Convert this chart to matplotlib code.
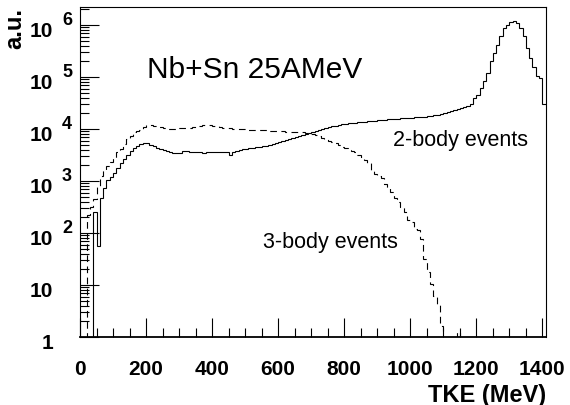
import numpy as np
import matplotlib.pyplot as plt
import matplotlib.transforms as mtransforms
from matplotlib.ticker import FixedLocator, NullFormatter

plt.rcParams['font.family'] = ['Liberation Sans', 'DejaVu Sans']

nan = np.nan
# TKE bins of 10 MeV, 0..1410
edges = np.arange(0, 1411, 10)

# log10(counts) per bin; nan = empty bin
lg_2body = [
    nan, nan, nan, nan, 2.41, 1.76, 2.68, 2.86, 3.02, 3.08,
    3.16, 3.25, 3.35, 3.42, 3.50, 3.58, 3.64, 3.67, 3.71, 3.73,
    3.73, 3.70, 3.68, 3.64, 3.61, 3.59, 3.57, 3.55, 3.53, 3.53,
    3.54, 3.58, 3.57, 3.56, 3.56, 3.55, 3.55, 3.54, 3.55, 3.55,
    3.56, 3.55, 3.56, 3.55, 3.56, 3.51, 3.56, 3.58, 3.59, 3.61,
    3.62, 3.63, 3.64, 3.65, 3.66, 3.67, 3.68, 3.70, 3.71, 3.73,
    3.75, 3.77, 3.79, 3.81, 3.83, 3.85, 3.87, 3.89, 3.91, 3.93,
    3.95, 3.96, 3.98, 4.00, 4.02, 4.04, 4.05, 4.06, 4.08, 4.09,
    4.10, 4.11, 4.12, 4.12, 4.13, 4.14, 4.14, 4.15, 4.16, 4.16,
    4.17, 4.18, 4.18, 4.19, 4.19, 4.20, 4.20, 4.21, 4.21, 4.22,
    4.22, 4.23, 4.23, 4.24, 4.24, 4.25, 4.26, 4.27, 4.28, 4.29,
    4.31, 4.33, 4.35, 4.37, 4.39, 4.41, 4.43, 4.45, 4.48, 4.59,
    4.66, 4.79, 4.92, 5.08, 5.30, 5.46, 5.62, 5.79, 5.95, 6.01,
    6.06, 6.07, 6.04, 5.95, 5.79, 5.56, 5.37, 5.20, 5.02, 4.99,
    4.48,
]

lg_3body = [
    nan, nan, 2.35, 2.50, 2.65, 2.88, 3.10, 3.20, 3.28, 3.36,
    3.45, 3.55, 3.62, 3.72, 3.80, 3.86, 3.94, 3.96, 3.98, 4.04,
    4.07, 4.07, 4.06, 4.05, 4.04, 4.02, 4.00, 4.01, 4.01, 4.02,
    4.02, 4.03, 4.03, 4.03, 4.04, 4.05, 4.06, 4.07, 4.07, 4.07,
    4.06, 4.05, 4.04, 4.03, 4.03, 4.02, 4.01, 4.00, 4.00, 4.00,
    3.99, 3.99, 3.98, 3.98, 3.98, 3.98, 3.98, 3.97, 3.97, 3.97,
    3.96, 3.96, 3.95, 3.95, 3.95, 3.94, 3.94, 3.94, 3.93, 3.92,
    3.91, 3.89, 3.86, 3.83, 3.81, 3.78, 3.75, 3.73, 3.70, 3.66,
    3.63, 3.60, 3.58, 3.55, 3.50, 3.46, 3.41, 3.34, 3.22, 3.14,
    3.09, 3.05, 2.95, 2.86, 2.78, 2.68, 2.60, 2.50, 2.40, 2.26,
    2.22, 2.07, 2.05, 1.88, 1.50, 1.25, 1.02, 0.78, 0.62, 0.22,
    nan, nan, nan, nan, 0.10, nan, nan, nan, nan, nan,
    nan, nan, nan, nan, nan, nan, nan, nan, nan, nan,
    nan, nan, nan, nan, nan, nan, nan, nan, nan, nan,
    nan,
]

xticks_major = [0, 200, 400, 600, 800, 1000, 1200, 1400]
decades = [0, 1, 2, 3, 4, 5, 6]

def counts(lg):
    c = 10.0 ** np.array(lg, dtype=float)
    return np.nan_to_num(c, nan=1e-3)   # empty bins go below the axis

fig = plt.figure(figsize=(5.7, 4.06), dpi=100)
ax = fig.add_axes([80/570, 68/406, 465.7/570, 329.7/406])

ax.stairs(counts(lg_2body), edges, baseline=None, color='black', lw=0.8)
ax.stairs(counts(lg_3body), edges, baseline=None, color='black', lw=0.8,
          linestyle=(0, (6, 4)))

ax.set_yscale('log')
ax.set_xlim(0, 1410)
ax.set_ylim(1, 2.2e6)

ax.xaxis.set_major_locator(FixedLocator(xticks_major))
ax.xaxis.set_minor_locator(FixedLocator(np.arange(50, 1410, 50)))
ax.set_xticklabels([str(v) for v in xticks_major])
ax.yaxis.set_major_locator(FixedLocator([10.0**d for d in decades]))
ax.yaxis.set_minor_locator(FixedLocator([m * 10.0**d for d in range(7) for m in range(2, 10)]))
ax.yaxis.set_major_formatter(NullFormatter())
ax.yaxis.set_minor_formatter(NullFormatter())

ax.tick_params(which='both', direction='in', top=False, right=False, width=0.8)
ax.tick_params(which='major', length=13.7)
ax.tick_params(which='minor', length=6.8)
ax.tick_params(axis='x', which='major', pad=15.5, labelsize=15)
for lab in ax.get_xticklabels():
    lab.set_fontweight('bold')

for s in ax.spines.values():
    s.set_linewidth(0.8)
ax.spines['bottom'].set_linewidth(1.3)

# ROOT-style log labels: 1, 10, 10^n
ytr = ax.get_yaxis_transform()
base_off = mtransforms.ScaledTranslation(-0.27, -0.11, fig.dpi_scale_trans)
exp_off = mtransforms.ScaledTranslation(-0.18, 0.01, fig.dpi_scale_trans)
for d in decades:
    base = '1' if d == 0 else '10'
    ax.text(0, 10.0**d, base, transform=ytr + base_off, ha='right', va='baseline',
            fontsize=15, fontweight='bold', clip_on=False)
    if d >= 2:
        ax.text(0, 10.0**d, str(d), transform=ytr + exp_off, ha='left', va='baseline',
                fontsize=13, fontweight='bold', clip_on=False)

fig.text(15/570, 398/406, 'a.u.', rotation=90, ha='center', va='top',
         fontsize=17, fontweight='bold')
fig.text(546/570, 10/406, 'TKE (MeV)', ha='right', va='center',
         fontsize=17, fontweight='bold')

ax.text(0.1439, 0.7886, 'Nb+Sn 25AMeV', transform=ax.transAxes, fontsize=21.5,
        va='baseline')
ax.text(0.672, 0.582, '2-body events', transform=ax.transAxes, fontsize=15.5,
        va='baseline')
ax.text(0.393, 0.273, '3-body events', transform=ax.transAxes, fontsize=15.5,
        va='baseline')

fig.savefig('out.png', dpi=100)
